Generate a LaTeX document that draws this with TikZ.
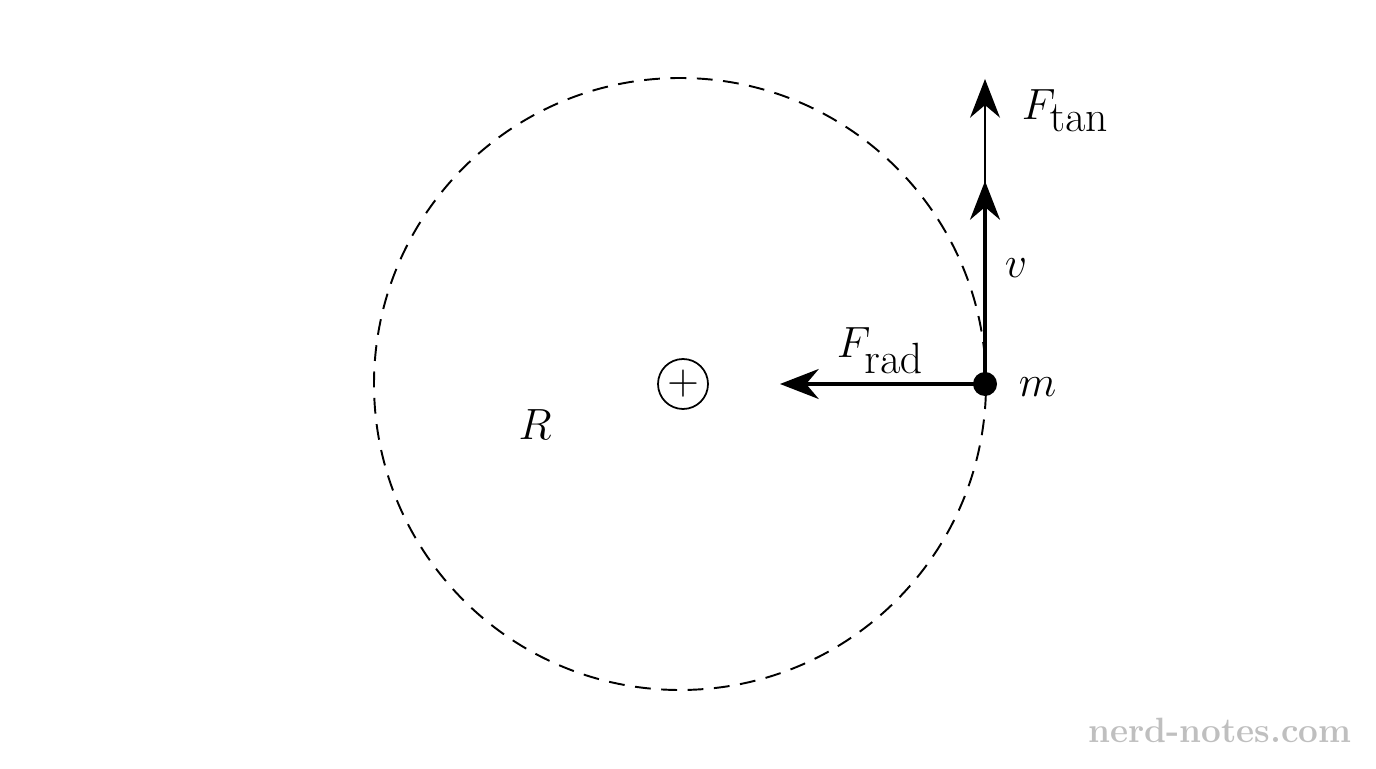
\documentclass[tikz,border=0pt]{standalone}
\usetikzlibrary{arrows.meta}
\begin{document}
\begin{tikzpicture}[x=1cm,y=1cm,
  lbl/.style={font=\fontsize{42}{48}\selectfont, inner sep=0pt},
  thickarr/.style={line width=2.4pt,-{Stealth[length=22pt,width=17pt]}},
  thinarr/.style={line width=1.1pt,-{Stealth[length=22pt,width=17pt]}}]
\useasboundingbox (0,0) rectangle (27.52,15.36);
\coordinate (O) at (13.6,7.68);
\draw[line width=1.1pt, dash pattern=on 9pt off 6pt] (O) circle (6.12);
\node[draw, circle, line width=1pt, minimum size=1.0cm, inner sep=0pt, font=\fontsize{42}{48}\selectfont] (c) at (13.66,7.68) {$+$};
\node[lbl] (R) at (10.7,6.86) {$R$};
\coordinate (mm) at (19.7,7.68);
\coordinate (vt) at (19.7,11.74);
\coordinate (ft) at (19.7,13.78);
\coordinate (fr) at (15.6,7.68);
\draw[thinarr] (mm) -- (ft);
\draw[thickarr] (mm) -- (vt);
\draw[thickarr] (mm) -- (fr);
\fill (mm) circle (0.24);
\node[lbl] (m) at (20.75,7.62) {$m$};
\node[lbl] (v) at (20.32,10.0) {$v$};
\node[lbl] (Ft) at (21.3,13.15) {$F_{\mathrm{tan}}$};
\node[lbl] (Fr) at (17.6,8.35) {$F_{\mathrm{rad}}$};
\node[font=\fontsize{20}{24}\selectfont\bfseries, text=black!25, inner sep=0pt] (wm) at (24.4,0.75) {nerd-notes.com};
\end{tikzpicture}
\end{document}
